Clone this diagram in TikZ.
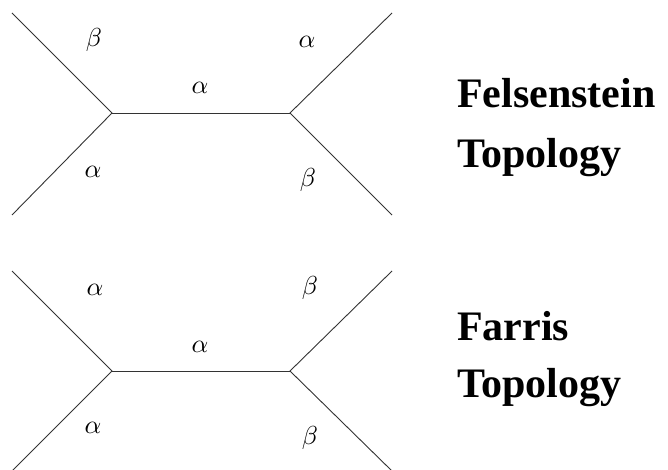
\documentclass[tikz,border=0pt]{standalone}
\usepackage{amsmath}
\usepackage{fontspec}
\setmainfont{Liberation Serif}
\usepackage{tikz}

\begin{document}
\begin{tikzpicture}[x=1pt,y=-1pt,
        branch/.style = {draw=black!80, line width=0.9pt},
        greek/.style = {scale=2.6, transform shape, inner sep=0pt},
        title/.style = {anchor=base west, inner sep=0pt, font=\fontsize{42}{48}\selectfont\bfseries}]
        \useasboundingbox (0,0) rectangle (668,470);
        % Felsenstein tree
        \coordinate (a1) at (12,13);
        \coordinate (a2) at (12,215);
        \coordinate (a3) at (112,113);
        \coordinate (a4) at (290,113);
        \coordinate (a5) at (392,13);
        \coordinate (a6) at (392,215);
        \draw[branch] (a1) -- (a3) -- (a2);
        \draw[branch] (a3) -- (a4);
        \draw[branch] (a5) -- (a4) -- (a6);
        \node[greek] (ga1) at (94,40) {$\beta$};
        \node[greek] (ga2) at (93,172) {$\alpha$};
        \node[greek] (ga3) at (200,88) {$\alpha$};
        \node[greek] (ga5) at (307,42) {$\alpha$};
        \node[greek] (ga6) at (308,180) {$\beta$};
        \node[title] (fel) at (457,108) {Felsenstein};
        \node[title] (top1) at (457,168) {Topology};
        % Farris tree
        \coordinate (b1) at (12,271);
        \coordinate (b2) at (12,471);
        \coordinate (b3) at (112,371);
        \coordinate (b4) at (290,371);
        \coordinate (b5) at (392,271);
        \coordinate (b6) at (392,471);
        \draw[branch] (b1) -- (b3) -- (b2);
        \draw[branch] (b3) -- (b4);
        \draw[branch] (b5) -- (b4) -- (b6);
        \node[greek] (gb1) at (95,290) {$\alpha$};
        \node[greek] (gb2) at (93,428) {$\alpha$};
        \node[greek] (gb3) at (200,347) {$\alpha$};
        \node[greek] (gb5) at (310,288) {$\beta$};
        \node[greek] (gb6) at (310,438) {$\beta$};
        \node[title] (far) at (457,340) {Farris};
        \node[title] (top2) at (457,397) {Topology};
\end{tikzpicture}
\end{document}
